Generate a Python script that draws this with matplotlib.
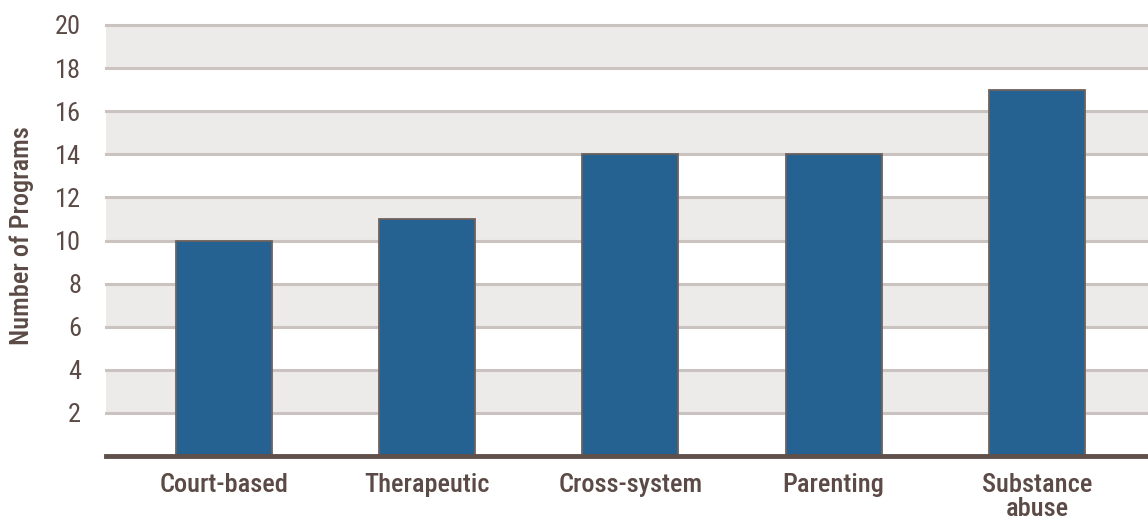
import matplotlib
matplotlib.use("Agg")
import matplotlib.pyplot as plt
from matplotlib import font_manager

categories = ["Court-based", "Therapeutic", "Cross-system", "Parenting", "Substance\nabuse"]
programs = [10, 11, 14, 14, 17]
y_ticks = [2, 4, 6, 8, 10, 12, 14, 16, 18, 20]

# pick a condensed sans-serif if one is available
installed = {f.name for f in font_manager.fontManager.ttflist}
preferred = ["Roboto Condensed", "Archivo Narrow", "PT Sans Narrow", "IBM Plex Sans Condensed",
             "Liberation Sans Narrow", "Liberation Sans"]
chosen = next(f for f in preferred if f in installed)
plt.rcParams["font.family"] = [chosen, "DejaVu Sans"]

text_color = "#5b4a45"
grid_color = "#cbc3c0"
band_color = "#ecebe9"
bar_color = "#256191"
edge_color = "#6f625e"

W, H = 1148, 523
fig = plt.figure(figsize=(W / 100, H / 100), dpi=100)
fig.patch.set_facecolor("white")
ax = fig.add_axes([106 / W, 67 / H, 1 - 106 / W, (456 - 25) / H])
ax.set_facecolor("white")

# alternating shaded bands
for lo in [2, 6, 10, 14, 18]:
    ax.axhspan(lo, lo + 2, facecolor=band_color, edgecolor="none", zorder=0.5)
for t in y_ticks:
    ax.axhline(t, color=grid_color, lw=2.2, zorder=1, clip_on=False)

x = list(range(len(categories)))
ax.bar(x, programs, width=0.473, color=bar_color, edgecolor=edge_color, linewidth=1.3, zorder=2)
ax.axhline(0, color="#5f504b", lw=3.5, zorder=3, clip_on=False)

ax.set_xlim(-0.58, 4.547)
ax.set_ylim(0, 20)
ax.set_yticks(y_ticks)
ax.set_yticklabels([str(t) for t in y_ticks])
ax.set_xticks(x)
ax.set_xticklabels(categories, linespacing=1.0, fontweight="medium")
ax.tick_params(axis="both", length=0, colors=text_color, labelsize=19)
ax.tick_params(axis="y", pad=18)
ax.tick_params(axis="x", pad=12)
for s in ax.spines.values():
    s.set_visible(False)

fig.text(22 / W, 1 - 236 / H, "Number of Programs", rotation=90, ha="center", va="center",
         color=text_color, fontsize=19, fontweight="medium")

fig.savefig("out.png", dpi=100, facecolor="white")
